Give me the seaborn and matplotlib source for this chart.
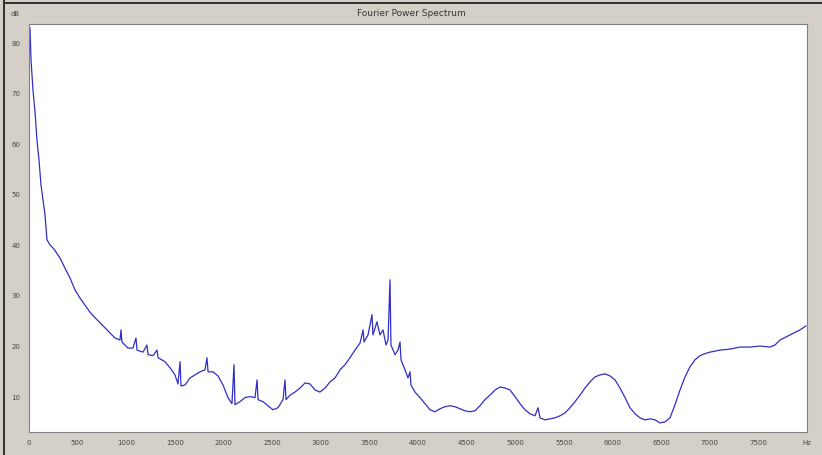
import numpy as np
import pandas as pd
import matplotlib
matplotlib.use("Agg")
import matplotlib.pyplot as plt
import seaborn as sns
from matplotlib.patches import Rectangle

# frequency (Hz) and power (dB)
freq = [10, 21, 41, 62, 82, 103, 123, 144, 165, 185, 216, 247, 278, 319, 370, 421, 473, 524,
        576, 627, 679, 730, 781, 833, 884, 936, 946, 956, 1018, 1069, 1100, 1111, 1172, 1213,
        1224, 1275, 1316, 1327, 1398, 1450, 1501, 1532, 1553, 1563, 1604, 1656, 1707, 1758,
        1810, 1830, 1841, 1892, 1943, 1995, 2046, 2087, 2108, 2118, 2170, 2221, 2273, 2324,
        2345, 2355, 2406, 2458, 2509, 2560, 2612, 2632, 2643, 2684, 2735, 2787, 2838, 2890,
        2941, 2992, 3044, 3095, 3147, 3198, 3249, 3301, 3352, 3404, 3435, 3445, 3486, 3527,
        3537, 3578, 3609, 3640, 3671, 3692, 3712, 3722, 3764, 3794, 3815, 3825, 3866, 3897,
        3918, 3928, 3969, 4021, 4072, 4123, 4175, 4226, 4278, 4329, 4380, 4432, 4483, 4535,
        4586, 4638, 4689, 4740, 4792, 4843, 4895, 4946, 4998, 5049, 5100, 5152, 5203, 5234,
        5255, 5306, 5357, 5409, 5460, 5512, 5563, 5615, 5666, 5717, 5769, 5820, 5872, 5923,
        5974, 6026, 6077, 6129, 6180, 6232, 6283, 6334, 6386, 6437, 6489, 6540, 6591, 6643,
        6694, 6746, 6797, 6849, 6900, 6951, 7003, 7106, 7208, 7311, 7414, 7517, 7620, 7671,
        7723, 7825, 7928, 7990]
power_db = [83.0, 76.6, 70.7, 66.4, 60.8, 56.9, 52.0, 49.0, 46.0, 41.1, 40.1, 39.5, 38.7, 37.5,
            35.5, 33.6, 31.2, 29.6, 28.2, 26.8, 25.7, 24.7, 23.7, 22.7, 21.7, 21.3, 23.3, 20.9,
            19.7, 19.7, 21.7, 19.3, 18.9, 20.3, 18.4, 18.2, 19.3, 17.8, 17.0, 15.8, 14.4, 12.6,
            17.0, 12.2, 12.4, 13.8, 14.4, 15.0, 15.4, 17.8, 15.0, 15.0, 14.2, 12.4, 9.9, 8.7,
            16.4, 8.5, 9.1, 9.9, 10.1, 9.9, 13.4, 9.5, 9.1, 8.3, 7.5, 7.9, 9.5, 13.4, 9.5, 10.4,
            11.0, 11.8, 12.8, 12.6, 11.4, 11.0, 11.8, 13.0, 13.8, 15.4, 16.4, 17.8, 19.3, 20.7,
            23.3, 20.9, 22.3, 26.3, 22.3, 24.9, 22.3, 23.3, 20.3, 21.3, 33.2, 20.3, 18.4, 19.3,
            20.9, 17.4, 15.4, 13.8, 15.0, 12.4, 11.0, 9.9, 8.7, 7.5, 7.1, 7.7, 8.1, 8.3, 8.1,
            7.7, 7.3, 7.1, 7.3, 8.3, 9.5, 10.4, 11.4, 12.0, 11.8, 11.4, 10.1, 8.7, 7.5, 6.7,
            6.3, 7.9, 5.9, 5.5, 5.7, 5.9, 6.3, 6.9, 7.9, 9.1, 10.4, 11.8, 13.0, 14.0, 14.4,
            14.6, 14.2, 13.4, 11.8, 9.9, 7.9, 6.7, 5.9, 5.5, 5.7, 5.5, 4.9, 5.1, 5.9, 8.5,
            11.4, 14.0, 16.0, 17.4, 18.2, 18.6, 18.9, 19.3, 19.5, 19.9, 19.9, 20.1, 19.9, 20.3,
            21.3, 22.3, 23.3, 24.1]

y_ticks = [10, 20, 30, 40, 50, 60, 70, 80]
x_ticks = [0, 500, 1000, 1500, 2000, 2500, 3000, 3500, 4000, 4500, 5000, 5500, 6000, 6500,
           7000, 7500]

df = pd.DataFrame({"freq": freq, "db": power_db})

sns.set_style("white")
fig = plt.figure(figsize=(8.22, 4.55), dpi=100)
fig.patch.set_facecolor("#d4d0c8")
ax = fig.add_axes([29 / 822, 1 - 432 / 455, (807 - 29) / 822, (432 - 24) / 455])
ax.set_facecolor("white")

sns.lineplot(data=df, x="freq", y="db", ax=ax, color="#2f2fc4", linewidth=0.9,
             estimator=None, sort=False)

ax.set_xlim(0, 8000)
ax.set_ylim(3.1, 83.8)
ax.set_xticks(x_ticks)
ax.set_xticks(np.arange(0, 8001, 100), minor=True)
ax.set_yticks(y_ticks)
ax.set_yticks(np.arange(5, 84, 2), minor=True)
ax.tick_params(axis="both", which="major", direction="out", length=4, width=0.7,
               colors="#555555", labelsize=5, labelcolor="#444444", pad=2)
ax.tick_params(axis="both", which="minor", direction="out", length=2, width=0.5,
               colors="#888888")
ax.set_xlabel("")
ax.set_ylabel("")
for s in ax.spines.values():
    s.set_color("#808080")
    s.set_linewidth(0.8)

fig.text(0.5, 1 - 14 / 455, "Fourier Power Spectrum", ha="center", va="center",
         fontsize=6.5, color="#333333")
fig.text(15 / 822, 1 - 14 / 455, "dB", ha="center", va="center", fontsize=5,
         color="#444444")
fig.text(807 / 822, 1 - 443 / 455, "Hz", ha="center", va="center", fontsize=5,
         color="#444444")

# dark window border on the left and top
fig.patches.append(Rectangle((3 / 822, 0), 2 / 822, 1, transform=fig.transFigure,
                             facecolor="#333333", edgecolor="none"))
fig.patches.append(Rectangle((3 / 822, 1 - 4 / 455), 1, 2 / 455, transform=fig.transFigure,
                             facecolor="#333333", edgecolor="none"))

fig.savefig("out.png", dpi=100, facecolor=fig.get_facecolor())
